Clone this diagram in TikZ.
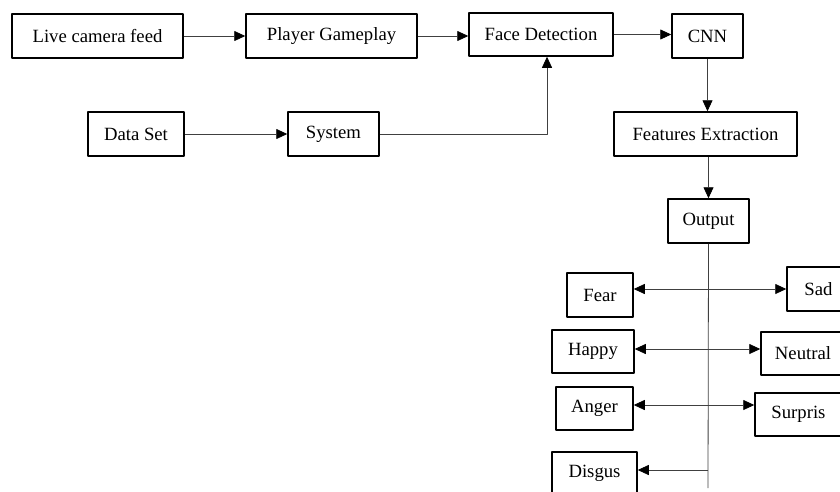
\documentclass[tikz,border=0pt]{standalone}
\usepackage{fontspec}
\setmainfont{Liberation Serif}
\usetikzlibrary{arrows.meta}
\tikzset{
  blk/.style={draw=black,line width=1.5pt,inner sep=0pt,minimum height=44pt},
  lnk/.style={line width=0.8pt,draw=black!75}
}
\begin{document}
\begin{tikzpicture}[x=1pt,y=-1pt,>={Triangle[length=11pt,width=10pt,color=black]},line join=round,font=\fontsize{18.7}{22}\selectfont]
				\useasboundingbox (0,0) rectangle (840,491);
				\clip (0,0) rectangle (840,491);
				% top row
				\node[blk,minimum width=171pt] (live) at (97.5,36) {Live camera feed};
				\node[blk,minimum width=171pt] (player) at (331.5,36) {Player Gameplay};
				\node[blk,minimum width=144pt,minimum height=43pt] (face) at (541,34.5) {Face Detection};
				\node[blk,minimum width=71pt] (cnn) at (707.5,36) {CNN};
				\node[blk,minimum width=96pt] (data) at (136,134) {Data Set};
				\node[blk,minimum width=91pt] (system) at (333.5,134) {System};
				\node[blk,minimum width=183pt] (feat) at (705.5,134) {Features Extraction};
				\node[blk,minimum width=81pt] (output) at (708.5,221) {Output};
				% emotions
				\node[blk,minimum width=66pt] (fear) at (600,295) {Fear};
				\node[blk,minimum width=63pt] (sad) at (818.5,289) {Sad};
				\node[blk,minimum width=82pt,minimum height=43pt] (happy) at (593,351.5) {Happy};
				\node[blk,minimum width=84pt,minimum height=43pt] (neutral) at (803,353.5) {Neutral};
				\node[blk,minimum width=77pt,minimum height=43pt] (anger) at (594.5,408.5) {Anger};
				\node[blk,minimum width=87pt,minimum height=43pt] (surpris) at (798.5,414.5) {Surpris};
				\node[blk,minimum width=85pt,minimum height=42pt] (disgus) at (594.5,473) {Disgus};
				% links
				\draw[lnk,->] (live) -- (player);
				\draw[lnk,->] (player.east) -- (player.east -| face.west);
				\draw[lnk,->] (face.east) -- (face.east -| cnn.west);
				\draw[lnk,->] (data) -- (system);
				\draw[lnk,->] (system.east) -| ([xshift=6pt]face.south);
				\draw[lnk,->] (cnn.south) -- (cnn.south |- feat.north);
				\draw[lnk,->] (output.north |- feat.south) -- (output.north);
				\coordinate (trunk) at (708,488);
				\draw[lnk] (output.south) -- (trunk);
				\coordinate (br1) at (708,289);
				\coordinate (br2) at (708,349);
				\coordinate (br3) at (708,405);
				\coordinate (br4) at (708,470);
				\draw[lnk,->] (br1) -- (br1 -| fear.east);
				\draw[lnk,->] (br1) -- (br1 -| sad.west);
				\draw[lnk,->] (br2) -- (br2 -| happy.east);
				\draw[lnk,->] (br2) -- (br2 -| neutral.west);
				\draw[lnk,->] (br3) -- (br3 -| anger.east);
				\draw[lnk,->] (br3) -- (br3 -| surpris.west);
				\draw[lnk,->] (br4) -- (br4 -| disgus.east);
			\end{tikzpicture}
\end{document}
